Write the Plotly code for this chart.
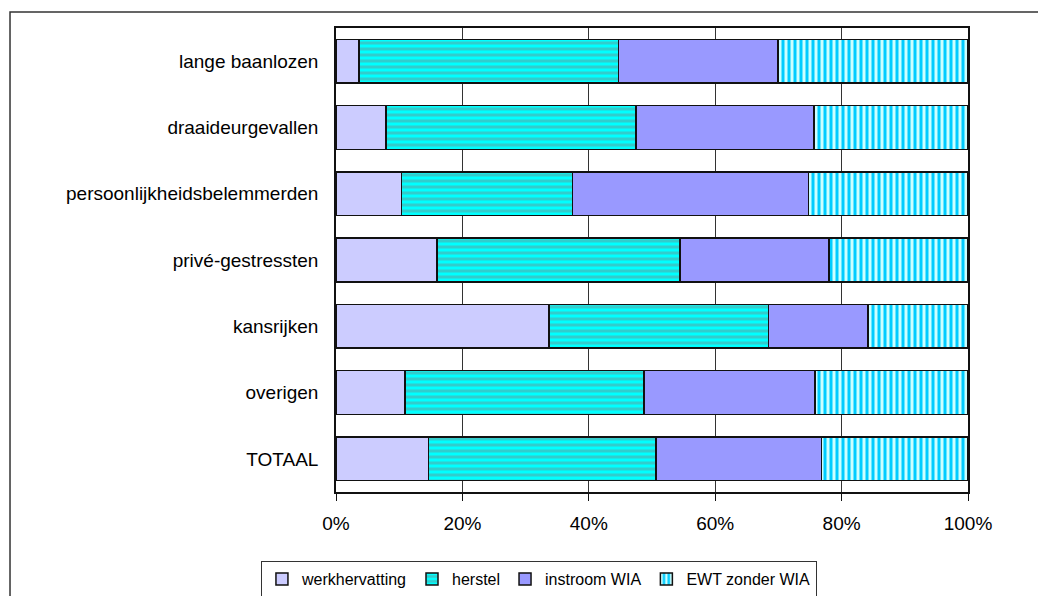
import plotly.graph_objects as go

categories = ["lange baanlozen", "draaideurgevallen", "persoonlijkheidsbelemmerden",
              "privé-gestressten", "kansrijken", "overigen", "TOTAAL"]
werkhervatting = [3.6, 7.9, 10.4, 16.0, 33.7, 10.9, 14.6]
herstel = [41.1, 39.6, 27.0, 38.4, 34.7, 37.8, 36.0]
instroom_wia = [25.2, 28.1, 37.4, 23.6, 15.8, 27.1, 26.2]
ewt_zonder_wia = [30.1, 24.4, 25.2, 22.0, 15.8, 24.2, 23.2]
x_ticks = [0, 20, 40, 60, 80, 100]

FONT = "Liberation Sans, Arial, sans-serif"
outline = dict(color="#111111", width=1.5)

fig = go.Figure()
fig.add_trace(go.Bar(y=categories, x=werkhervatting, name="werkhervatting", orientation="h",
                     marker=dict(color="#CCCCFF", line=outline)))
fig.add_trace(go.Bar(y=categories, x=herstel, name="herstel", orientation="h",
                     marker=dict(color="#00FFFF", line=outline,
                                 pattern=dict(shape="-", fillmode="replace", bgcolor="#00FFFF",
                                              fgcolor="#33CCCC", size=6, solidity=0.5))))
fig.add_trace(go.Bar(y=categories, x=instroom_wia, name="instroom WIA", orientation="h",
                     marker=dict(color="#9999FF", line=outline)))
fig.add_trace(go.Bar(y=categories, x=ewt_zonder_wia, name="EWT zonder WIA", orientation="h",
                     marker=dict(color="#CCFFFF", line=outline,
                                 pattern=dict(shape="|", fillmode="replace", bgcolor="#CCFFFF",
                                              fgcolor="#00CCFF", size=6, solidity=0.5))))

fig.update_layout(
    width=1038, height=596,
    margin=dict(l=336, r=70, t=28, b=104, autoexpand=False),
    barmode="stack", bargap=0.34,
    plot_bgcolor="white", paper_bgcolor="white",
    font=dict(family=FONT, size=19, color="black"),
    showlegend=True,
    legend=dict(orientation="h", xref="container", yref="container",
                x=0.2514, y=0.0587, xanchor="left", yanchor="top",
                bordercolor="#333333", borderwidth=1, font=dict(size=16),
                traceorder="normal", itemwidth=30, tracegroupgap=0),
    xaxis=dict(range=[0, 100], tickvals=x_ticks, ticktext=[f"{v}%" for v in x_ticks],
               showgrid=True, gridcolor="#333333", gridwidth=1, zeroline=False,
               showline=True, linecolor="#111111", linewidth=1.5, mirror=True,
               ticks="outside", ticklen=7, tickcolor="#111111", ticklabelstandoff=6),
    yaxis=dict(autorange="reversed", showline=True, linecolor="#111111", linewidth=1.5,
               mirror=True, ticks="", ticklabelstandoff=12, showgrid=False),
    shapes=[dict(type="rect", xref="paper", yref="paper",
                 x0=-0.5158, x1=1.2, y0=-0.3, y1=1.0345,
                 line=dict(color="#333333", width=1.5), layer="below")],
)

fig.write_html("out.html", config={"displayModeBar": False},
               post_script="document.body.style.margin = '0';")
